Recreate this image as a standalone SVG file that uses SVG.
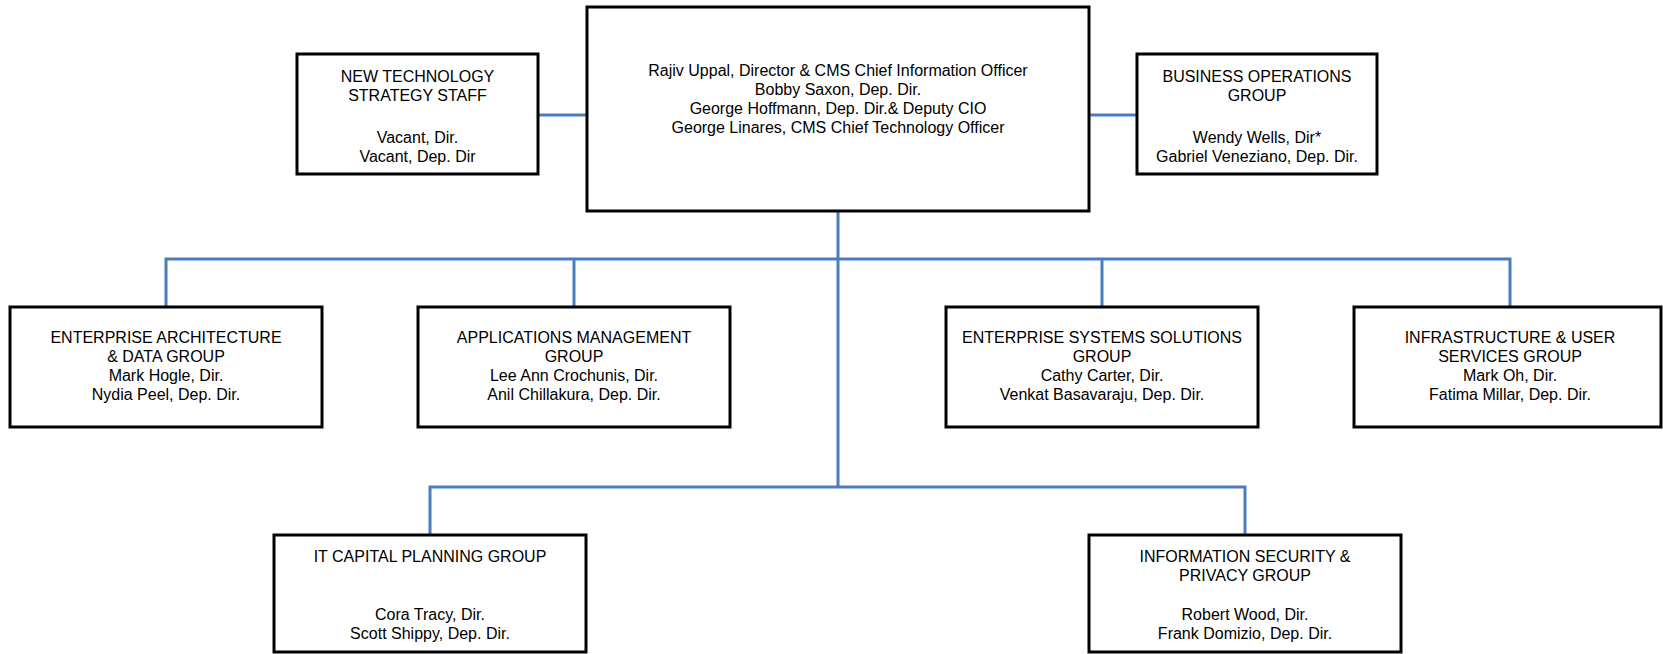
<svg xmlns="http://www.w3.org/2000/svg" width="1663" height="654" viewBox="0 0 1663 654">
<style>
.box{fill:#fff;stroke:#000;stroke-width:3}
.con{fill:none;stroke:#4A7EBB;stroke-width:3}
text{font-family:"Liberation Sans",Arial,sans-serif;font-size:16px;fill:#000;text-anchor:middle}
</style>
<rect width="1663" height="654" fill="#fff"/>
<g id="connectors">
<line class="con" x1="538" y1="115" x2="587" y2="115"/>
<line class="con" x1="1089" y1="115" x2="1137" y2="115"/>
<line class="con" x1="838" y1="211" x2="838" y2="487"/>
<polyline class="con" points="166,307 166,259 1510,259 1510,307"/>
<line class="con" x1="574" y1="259" x2="574" y2="307"/>
<line class="con" x1="1102" y1="259" x2="1102" y2="307"/>
<polyline class="con" points="430,535 430,487 1245,487 1245,535"/>
</g>
<g id="main">
<rect class="box" x="587" y="7" width="502" height="204"/>
<text x="838" y="76">Rajiv Uppal, Director &amp; CMS Chief Information Officer</text>
<text x="838" y="95">Bobby Saxon, Dep. Dir.</text>
<text x="838" y="114">George Hoffmann, Dep. Dir.&amp; Deputy CIO</text>
<text x="838" y="133">George Linares, CMS Chief Technology Officer</text>
</g>
<g id="new-tech">
<rect class="box" x="297" y="54" width="241" height="120"/>
<text x="417.5" y="82">NEW TECHNOLOGY</text>
<text x="417.5" y="101">STRATEGY STAFF</text>
<text x="417.5" y="143">Vacant, Dir.</text>
<text x="417.5" y="162">Vacant, Dep. Dir</text>
</g>
<g id="business-ops">
<rect class="box" x="1137" y="54" width="240" height="120"/>
<text x="1257" y="82">BUSINESS OPERATIONS</text>
<text x="1257" y="101">GROUP</text>
<text x="1257" y="143">Wendy Wells, Dir*</text>
<text x="1257" y="162">Gabriel Veneziano, Dep. Dir.</text>
</g>
<g id="enterprise-arch">
<rect class="box" x="10" y="307" width="312" height="120"/>
<text x="166" y="343">ENTERPRISE ARCHITECTURE</text>
<text x="166" y="362">&amp; DATA GROUP</text>
<text x="166" y="381">Mark Hogle, Dir.</text>
<text x="166" y="400">Nydia Peel, Dep. Dir.</text>
</g>
<g id="apps-mgmt">
<rect class="box" x="418" y="307" width="312" height="120"/>
<text x="574" y="343">APPLICATIONS MANAGEMENT</text>
<text x="574" y="362">GROUP</text>
<text x="574" y="381">Lee Ann Crochunis, Dir.</text>
<text x="574" y="400">Anil Chillakura, Dep. Dir.</text>
</g>
<g id="enterprise-sys">
<rect class="box" x="946" y="307" width="312" height="120"/>
<text x="1102" y="343">ENTERPRISE SYSTEMS SOLUTIONS</text>
<text x="1102" y="362">GROUP</text>
<text x="1102" y="381">Cathy Carter, Dir.</text>
<text x="1102" y="400">Venkat Basavaraju, Dep. Dir.</text>
</g>
<g id="infrastructure">
<rect class="box" x="1354" y="307" width="307" height="120"/>
<text x="1510" y="343">INFRASTRUCTURE &amp; USER</text>
<text x="1510" y="362">SERVICES GROUP</text>
<text x="1510" y="381">Mark Oh, Dir.</text>
<text x="1510" y="400">Fatima Millar, Dep. Dir.</text>
</g>
<g id="it-capital">
<rect class="box" x="274" y="535" width="312" height="117"/>
<text x="430" y="562">IT CAPITAL PLANNING GROUP</text>
<text x="430" y="620">Cora Tracy, Dir.</text>
<text x="430" y="639">Scott Shippy, Dep. Dir.</text>
</g>
<g id="info-security">
<rect class="box" x="1089" y="535" width="312" height="117"/>
<text x="1245" y="562">INFORMATION SECURITY &amp;</text>
<text x="1245" y="581">PRIVACY GROUP</text>
<text x="1245" y="620">Robert Wood, Dir.</text>
<text x="1245" y="639">Frank Domizio, Dep. Dir.</text>
</g>
</svg>
